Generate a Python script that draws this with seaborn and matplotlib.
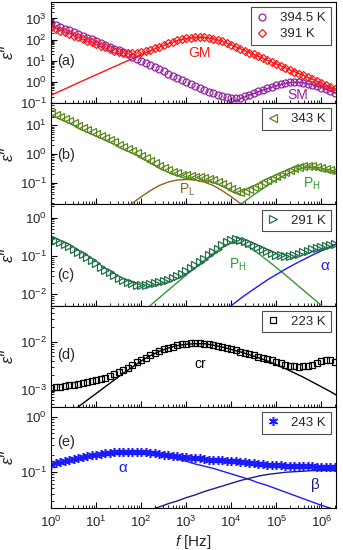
import matplotlib
matplotlib.use("Agg")
import matplotlib.pyplot as plt
import matplotlib.ticker as mticker
import seaborn as sns
import numpy as np

# measured frequency grid: 10 points per decade, 1 Hz .. 2 MHz (exponents)
log_f = np.arange(64) / 10

# log10(eps''), one value per frequency point
eps_3945 = [2.78, 2.69, 2.61, 2.52, 2.44, 2.35, 2.26, 2.18, 2.09, 2.01,
            1.92, 1.83, 1.75, 1.66, 1.58, 1.49, 1.40, 1.30, 1.20, 1.10,
            1.00, 0.90, 0.80, 0.70, 0.60, 0.50, 0.40, 0.30, 0.20, 0.10,
            0.00, -0.10, -0.20, -0.29, -0.38, -0.46, -0.54, -0.61, -0.67, -0.72,
            -0.75, -0.76, -0.74, -0.68, -0.60, -0.52, -0.44, -0.36, -0.29, -0.22,
            -0.15, -0.09, -0.04, -0.01, 0.00, -0.01, -0.04, -0.08, -0.13, -0.19,
            -0.26, -0.34, -0.42, -0.51]
eps_391 = [2.59, 2.51, 2.43, 2.35, 2.27, 2.19, 2.11, 2.03, 1.95, 1.87,
           1.79, 1.71, 1.63, 1.55, 1.48, 1.42, 1.38, 1.36, 1.36, 1.38,
           1.42, 1.47, 1.53, 1.60, 1.67, 1.75, 1.83, 1.90, 1.97, 2.03,
           2.07, 2.10, 2.12, 2.12, 2.11, 2.09, 2.05, 1.99, 1.92, 1.84,
           1.75, 1.66, 1.57, 1.48, 1.39, 1.30, 1.21, 1.12, 1.03, 0.94,
           0.85, 0.76, 0.67, 0.58, 0.49, 0.40, 0.31, 0.22, 0.13, 0.04,
           -0.05, -0.14, -0.23, -0.32]
eps_343 = [1.42, 1.35, 1.28, 1.21, 1.14, 1.06, 0.99, 0.92, 0.85, 0.78,
           0.70, 0.63, 0.56, 0.48, 0.41, 0.33, 0.26, 0.18, 0.10, 0.02,
           -0.06, -0.14, -0.23, -0.31, -0.40, -0.49, -0.56, -0.62, -0.67, -0.71,
           -0.74, -0.76, -0.78, -0.80, -0.82, -0.86, -0.91, -0.97, -1.04, -1.12,
           -1.20, -1.27, -1.31, -1.29, -1.22, -1.14, -1.06, -0.98, -0.90, -0.83,
           -0.76, -0.69, -0.62, -0.56, -0.50, -0.46, -0.42, -0.41, -0.42, -0.44,
           -0.48, -0.52, -0.56, -0.60]
eps_291 = [-0.53, -0.58, -0.63, -0.69, -0.75, -0.82, -0.89, -0.96, -1.04, -1.12,
           -1.20, -1.28, -1.36, -1.43, -1.50, -1.57, -1.63, -1.68, -1.72, -1.75,
           -1.76, -1.76, -1.74, -1.72, -1.69, -1.66, -1.62, -1.58, -1.53, -1.47,
           -1.40, -1.33, -1.25, -1.17, -1.08, -0.99, -0.90, -0.81, -0.72, -0.65,
           -0.59, -0.57, -0.58, -0.61, -0.66, -0.72, -0.77, -0.83, -0.88, -0.93,
           -0.97, -0.99, -1.00, -1.00, -0.98, -0.95, -0.91, -0.87, -0.83, -0.80,
           -0.77, -0.74, -0.72, -0.69]
eps_223 = [-2.96, -2.95, -2.94, -2.93, -2.91, -2.90, -2.88, -2.86, -2.84, -2.82,
           -2.80, -2.78, -2.75, -2.72, -2.68, -2.64, -2.59, -2.54, -2.48, -2.43,
           -2.38, -2.33, -2.28, -2.24, -2.20, -2.16, -2.13, -2.10, -2.07, -2.05,
           -2.04, -2.03, -2.03, -2.03, -2.04, -2.05, -2.07, -2.09, -2.11, -2.13,
           -2.16, -2.18, -2.21, -2.23, -2.26, -2.28, -2.31, -2.33, -2.36, -2.39,
           -2.42, -2.45, -2.48, -2.50, -2.51, -2.52, -2.51, -2.50, -2.48, -2.45,
           -2.41, -2.38, -2.37, -2.42]
eps_243 = [-0.87, -0.85, -0.83, -0.81, -0.79, -0.77, -0.75, -0.73, -0.72, -0.70,
           -0.69, -0.68, -0.67, -0.66, -0.65, -0.65, -0.64, -0.64, -0.64, -0.64,
           -0.65, -0.65, -0.66, -0.67, -0.68, -0.69, -0.70, -0.71, -0.72, -0.73,
           -0.74, -0.75, -0.76, -0.76, -0.77, -0.78, -0.78, -0.79, -0.79, -0.80,
           -0.80, -0.81, -0.82, -0.83, -0.84, -0.85, -0.86, -0.86, -0.87, -0.87,
           -0.88, -0.88, -0.89, -0.89, -0.89, -0.90, -0.90, -0.90, -0.90, -0.91,
           -0.91, -0.91, -0.91, -0.91]

# fitted components, log10(eps'') every 0.2 decade from the given start exponent
gm_start, gm_fit = 0.0, [-0.62, -0.43, -0.24, -0.04, 0.15, 0.34, 0.53, 0.72, 0.91, 1.10,
                         1.29, 1.47, 1.65, 1.81, 1.95, 2.06, 2.11, 2.11, 2.05, 1.92,
                         1.75, 1.57, 1.39, 1.21, 1.03, 0.85, 0.67, 0.49, 0.31, 0.13,
                         -0.05, -0.23, -0.41]
sm_start, sm_fit = 3.8, [-1.13, -0.96, -0.79, -0.62, -0.46, -0.31, -0.17, -0.06, 0.00,
                         -0.04, -0.13, -0.26, -0.42, -0.58]
pl_start, pl_fit = 1.6, [-1.95, -1.71, -1.48, -1.27, -1.09, -0.97, -0.90, -0.88, -0.90,
                         -0.97, -1.09, -1.27, -1.48, -1.71, -1.95]
phb_start, phb_fit = 4.0, [-1.98, -1.75, -1.52, -1.30, -1.09, -0.89, -0.72, -0.58, -0.48,
                           -0.45, -0.48, -0.56, -0.66]
phc_start, phc_fit = 2.0, [-2.50, -2.30, -2.10, -1.90, -1.70, -1.50, -1.31, -1.12, -0.94,
                           -0.78, -0.67, -0.67, -0.78, -0.94, -1.12, -1.31, -1.50, -1.70,
                           -1.90, -2.10, -2.30, -2.50, -2.70]
ac_start, ac_fit = 3.8, [-2.48, -2.30, -2.12, -1.95, -1.79, -1.63, -1.49, -1.35, -1.22,
                         -1.10, -0.98, -0.87, -0.76, -0.65]
cr_start, cr_fit = 0.4, [-3.50, -3.36, -3.22, -3.08, -2.94, -2.80, -2.66, -2.53, -2.40,
                         -2.29, -2.20, -2.13, -2.08, -2.05, -2.04, -2.04, -2.07, -2.11,
                         -2.16, -2.21, -2.27, -2.33, -2.40, -2.48, -2.56, -2.65, -2.74,
                         -2.84, -2.94, -3.04, -3.15]
ae_start, ae_fit = 0.0, [-0.87, -0.83, -0.79, -0.75, -0.72, -0.69, -0.67, -0.65, -0.64,
                         -0.64, -0.65, -0.67, -0.70, -0.73, -0.77, -0.81, -0.86, -0.90,
                         -0.94, -0.99, -1.04, -1.09, -1.14, -1.20, -1.25, -1.31, -1.37,
                         -1.43, -1.49, -1.55, -1.61, -1.66, -1.72]
be_start, be_fit = 2.2, [-1.69, -1.64, -1.58, -1.53, -1.47, -1.42, -1.36, -1.31, -1.26,
                         -1.21, -1.16, -1.12, -1.08, -1.05, -1.03, -1.01, -1.00, -0.99,
                         -0.98, -0.98, -0.98, -0.99]

# decade ticks shown on each axis
x_decades = [0, 1, 2, 3, 4, 5, 6]
y_decades = {'a': [-1, 0, 1, 2, 3], 'b': [-1, 0, 1], 'c': [-2, -1, 0],
             'd': [-3, -2], 'e': [-1, 0]}

sns.set_theme(style="ticks")
plt.rcParams['font.family'] = ['Liberation Sans', 'DejaVu Sans']
plt.rcParams['mathtext.fontset'] = 'custom'
plt.rcParams['mathtext.rm'] = 'Liberation Sans'
plt.rcParams['mathtext.it'] = 'Liberation Sans:italic'
plt.rcParams['axes.edgecolor'] = 'black'
plt.rcParams['axes.linewidth'] = 0.8

fig, axes = plt.subplots(5, 1, figsize=(3.43, 5.5), dpi=100, sharex=True)
fig.subplots_adjust(left=51 / 343, right=336 / 343, top=1 - 2 / 550,
                    bottom=1 - 508 / 550, hspace=0)


def data(ax, vals, color, marker, label, ms=5, mew=0.9):
    sns.lineplot(x=10 ** log_f, y=10 ** np.array(vals), ax=ax, marker=marker,
                 linestyle='none', markersize=ms, markerfacecolor='none',
                 markeredgecolor=color, markeredgewidth=mew, color=color, label=label)


def comp(ax, start, vals, color):
    lf = start + np.arange(len(vals)) * 0.2
    sns.lineplot(x=10 ** lf, y=10 ** np.array(vals), ax=ax, color=color, lw=1.0)


def minor_ticks(decades, lo, hi):
    vals = [m * 10.0 ** d for d in range(min(decades) - 1, max(decades) + 1)
            for m in range(2, 10)]
    return [v for v in vals if lo <= v <= hi]


purple = '#93229f'
red = '#ff1414'
olive = '#5a861a'
brown = '#8a661a'
green = '#2f9a2f'
teal = '#1f6f48'
blue = '#1a1aff'
navy = '#1c1c90'

ax = axes[0]
comp(ax, gm_start, gm_fit, red)
comp(ax, sm_start, sm_fit, purple)
data(ax, eps_3945, purple, 'o', '394.5 K')
data(ax, eps_391, red, 'D', '391 K', ms=4.5)
ax.set_ylim(0.1, 6000)
ax.text(0.52, 0.5, 'GM', color=red, transform=ax.transAxes, ha='center', va='center', fontsize=10)
ax.text(0.867, 0.08, 'SM', color=purple, transform=ax.transAxes, ha='center', va='center', fontsize=10)

ax = axes[1]
comp(ax, pl_start, pl_fit, brown)
comp(ax, phb_start, phb_fit, green)
data(ax, eps_343, olive, '<', '343 K', ms=5.5)
ax.set_ylim(0.018, 58)
ax.text(0.477, 0.14, r'P$_\mathregular{L}$', color=brown, transform=ax.transAxes, ha='center', va='center', fontsize=10)
ax.text(0.916, 0.2, r'P$_\mathregular{H}$', color=green, transform=ax.transAxes, ha='center', va='center', fontsize=10)

ax = axes[2]
comp(ax, phc_start, phc_fit, green)
comp(ax, ac_start, ac_fit, blue)
data(ax, eps_291, teal, '>', '291 K', ms=5.5)
ax.set_ylim(0.005, 2.2)
ax.text(0.656, 0.4, r'P$_\mathregular{H}$', color=green, transform=ax.transAxes, ha='center', va='center', fontsize=10)
ax.text(0.961, 0.39, 'α', color=blue, transform=ax.transAxes, ha='center', va='center', fontsize=11)

ax = axes[3]
comp(ax, cr_start, cr_fit, 'black')
data(ax, eps_223, 'black', 's', '223 K', ms=4.3)
ax.set_ylim(4.4e-4, 0.057)
ax.text(0.523, 0.42, 'cr', color='black', transform=ax.transAxes, ha='center', va='center', fontsize=10)

ax = axes[4]
comp(ax, ae_start, ae_fit, blue)
comp(ax, be_start, be_fit, navy)
data(ax, eps_243, blue, (6, 2, 0), '243 K', ms=6.5, mew=1.1)
ax.set_ylim(0.022, 1.5)
ax.text(0.253, 0.4, 'α', color=blue, transform=ax.transAxes, ha='center', va='center', fontsize=11)
ax.text(0.926, 0.23, 'β', color=navy, transform=ax.transAxes, ha='center', va='center', fontsize=11)

for ax, tag in zip(axes, 'abcde'):
    ax.set_xscale('log')
    ax.set_yscale('log')
    ax.set_xlim(1, 2.1e6)
    lo, hi = ax.get_ylim()
    ax.xaxis.set_major_locator(mticker.FixedLocator([10.0 ** d for d in x_decades]))
    ax.xaxis.set_minor_locator(mticker.FixedLocator(minor_ticks(x_decades, 1, 2.1e6)))
    ax.yaxis.set_major_locator(mticker.FixedLocator([10.0 ** d for d in y_decades[tag]]))
    ax.yaxis.set_minor_locator(mticker.FixedLocator(minor_ticks(y_decades[tag], lo, hi)))
    ax.xaxis.set_minor_formatter(mticker.NullFormatter())
    ax.yaxis.set_minor_formatter(mticker.NullFormatter())
    ax.tick_params(which='both', direction='in', top=False, right=False, color='black')
    ax.tick_params(which='major', length=4, width=0.8, labelsize=9.5, pad=3)
    ax.tick_params(which='minor', length=2, width=0.6)
    ax.set_ylabel("ε''", fontsize=12, style='italic')
    ax.yaxis.set_label_coords(-0.125, 0.5)
    ax.set_xlabel('')
    ax.legend(loc='upper right', fontsize=9.5, frameon=True, fancybox=False,
              edgecolor='0.3', framealpha=1, handlelength=1.0, handletextpad=0.9,
              borderaxespad=0.4, borderpad=0.35, labelspacing=0.3, numpoints=1)
    ax.legend_.get_frame().set_linewidth(0.8)

ypos = {'a': 0.42, 'b': 0.49, 'c': 0.30, 'd': 0.51, 'e': 0.65}
for ax, tag in zip(axes, 'abcde'):
    ax.text(0.02, ypos[tag], f'({tag})', transform=ax.transAxes, ha='left', va='center', fontsize=10.5)

axes[4].xaxis.set_tick_params(pad=5)
axes[4].set_xlabel(r'$\mathit{f}$ [Hz]', fontsize=11, labelpad=2)

fig.savefig('out.png', dpi=100)
